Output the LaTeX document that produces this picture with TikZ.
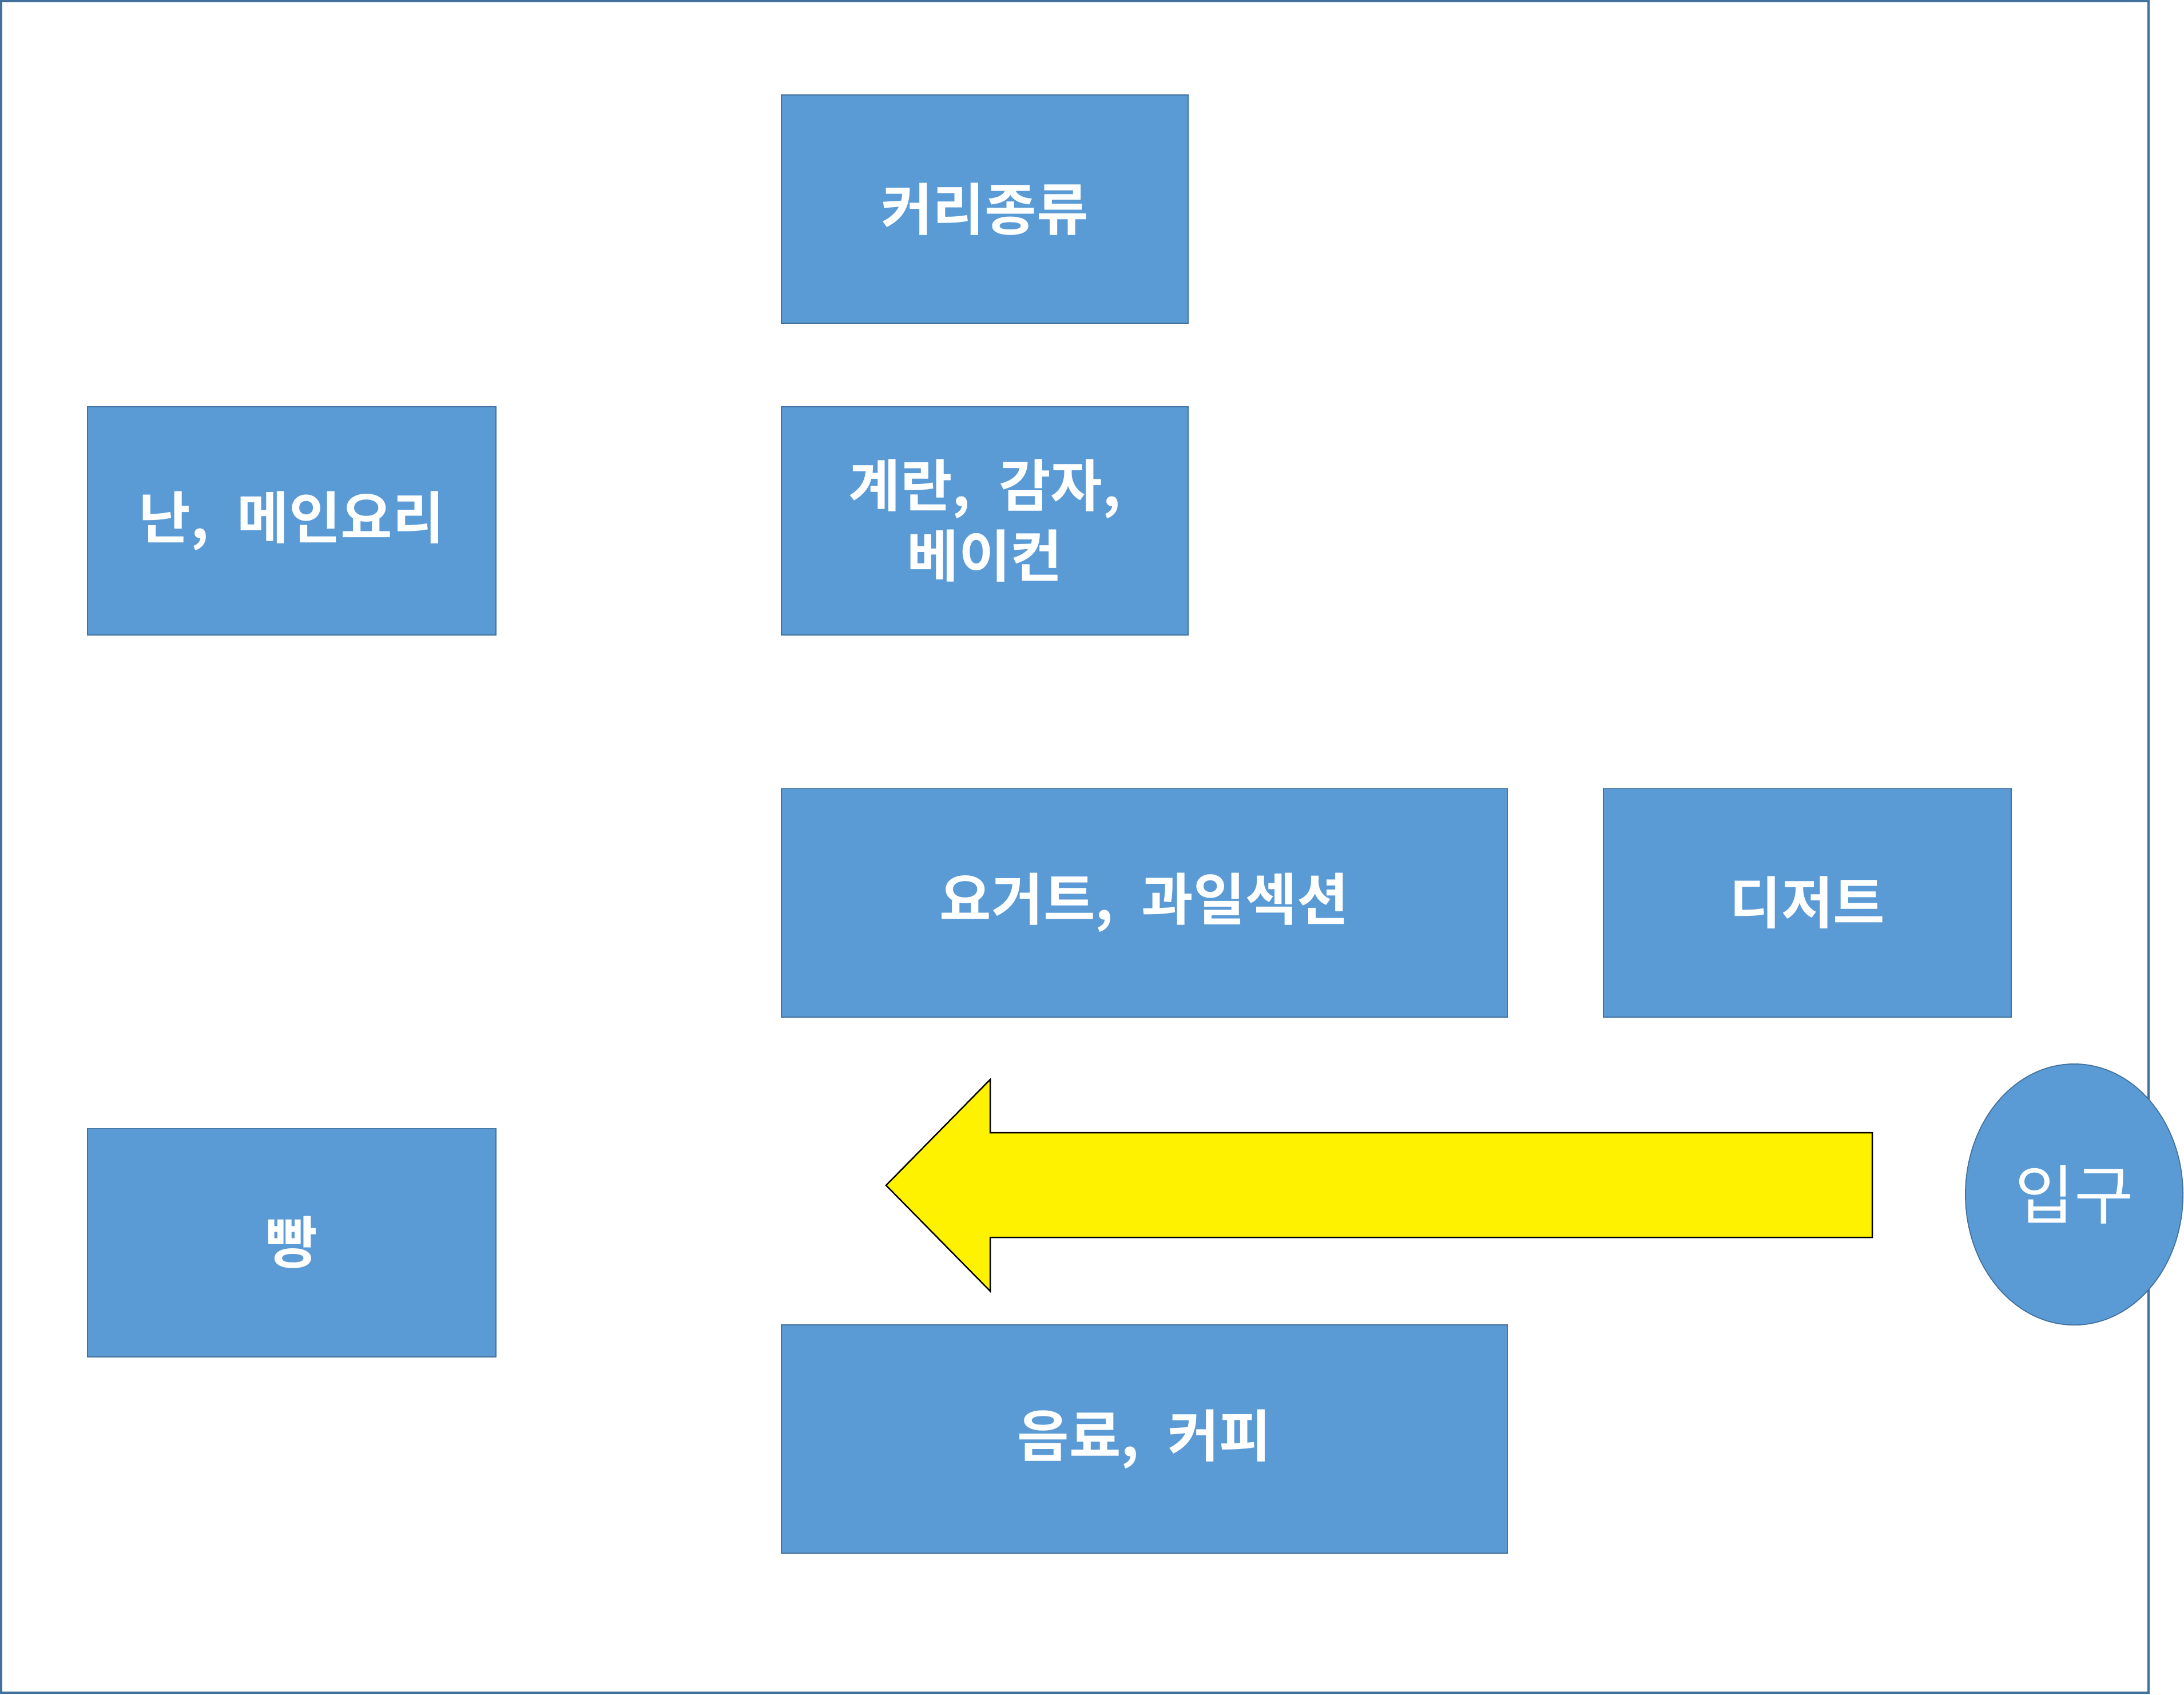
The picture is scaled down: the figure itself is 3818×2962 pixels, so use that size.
\documentclass[tikz,border=0pt]{standalone}
\usepackage{fontspec}
\newfontfamily\kr{Noto Sans CJK KR}
\newfontfamily\krb{Noto Sans CJK KR Bold}
\usetikzlibrary{shapes.geometric}
\definecolor{boxfill}{HTML}{5B9BD5}
\definecolor{boxline}{HTML}{41719C}
\begin{document}
\begin{tikzpicture}[x=0.01cm,y=-0.01cm,
  area/.style={draw=boxline,line width=0.5pt,fill=boxfill,text=white,align=center,
    font=\krb\fontsize{28}{35}\selectfont,inner sep=0pt,minimum height=3.99cm}]
\useasboundingbox (0,0) rectangle (3818,2962);
\draw[boxline,line width=0.9pt] (2,2) rectangle (3756,2959);
\node[area,minimum width=7.11cm] (curry) at (1721.5,365.5) {커리종류};
\node[area,minimum width=7.14cm] (naan) at (510,910.5) {난,\hspace{0.5em}메인요리};
\node[area,minimum width=7.11cm] (egg) at (1721.5,910.5) {계란,\hspace{0.5em}감자,\\베이컨};
\node[area,minimum width=12.69cm] (yog) at (2000.5,1578) {요거트,\hspace{0.5em}과일섹션};
\node[area,minimum width=7.13cm] (des) at (3159.5,1578) {디저트};
\node[area,minimum width=7.14cm] (bread) at (510,2172) {빵};
\node[area,minimum width=12.69cm] (drink) at (2000.5,2515.5) {음료,\hspace{0.5em}커피};
\node[ellipse,draw=boxline,line width=0.5pt,fill=boxfill,text=white,inner sep=0pt,
  minimum width=3.80cm,minimum height=4.56cm,font=\kr\fontsize{32}{38}\selectfont] (ent) at (3626,2088) {입구};
\draw[fill=yellow,draw=black,line width=0.7pt,line join=miter]
  (1549,2072) -- (1731,1887) -- (1731,1980) -- (3273,1980) -- (3273,2163) -- (1731,2163) -- (1731,2257) -- cycle;
\end{tikzpicture}
\end{document}
